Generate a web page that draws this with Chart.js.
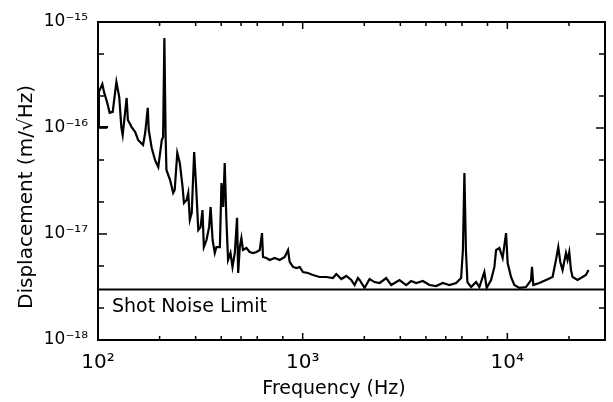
<!DOCTYPE html>
<html>
<head>
<meta charset="utf-8">
<script src="https://cdn.jsdelivr.net/npm/chart.js@4"></script>
<style>
  body { margin: 0; background: #fff; }
  #wrap { width: 613px; height: 402px; }
</style>
</head>
<body>
<div id="wrap"><canvas id="chart" width="613" height="402"></canvas></div>
<script>
// spectrum
const freq = [112,101,101,105,107,111,114,118,123,127,
  130,132,138,140,146,152,157,166,170,175,
  177,183,190,197,205,208,211,214,216,225,
  233,237,244,251,259,263,271,276,281,287,
  295,301,309,317,324,329,339,349,355,363,
  372,379,394,401,409,416,424,432,444,454,
  466,478,484,493,502,511,531,551,572,595,
  617,633,640,665,690,730,772,817,848,864,
  897,932,967,1003,1061,1122,1210,1305,1405,1460,
  1545,1634,1728,1794,1861,1897,2006,2122,2245,2375,
  2560,2709,2973,3205,3390,3586,3863,4164,4489,4835,
  5213,5620,5944,6066,6169,6274,6381,6651,7036,7302,
  7722,7925,8327,8644,8810,9142,9487,9856,10035,10423,
  10818,11442,12338,13049,13197,13392,14326,15446,16634,17283,
  17736,18137,18614,19338,19689,20069,20457,20829,22029,23300,
  24204,24927];
const disp = [1.02e-16,1.02e-16,2.19e-16,2.60e-16,2.19e-16,1.72e-16,1.39e-16,1.42e-16,2.72e-16,1.96e-16,
  1.02e-16,8.59e-17,1.92e-16,1.19e-16,1.02e-16,9.16e-17,7.71e-17,6.92e-17,8.97e-17,1.55e-16,
  9.57e-17,6.47e-17,4.99e-17,4.28e-17,7.71e-17,8.22e-17,7.06e-16,8.22e-17,4.02e-17,3.23e-17,
  2.44e-17,2.60e-17,5.81e-17,4.68e-17,2.77e-17,1.96e-17,2.09e-17,2.44e-17,1.36e-17,1.58e-17,
  5.94e-17,3.03e-17,1.09e-17,1.16e-17,1.68e-17,7.53e-18,8.77e-18,1.16e-17,1.80e-17,8.77e-18,
  6.62e-18,7.53e-18,7.53e-18,3.03e-17,1.80e-17,4.68e-17,1.36e-17,5.69e-18,6.62e-18,4.89e-18,
  6.62e-18,1.42e-17,4.29e-18,7.53e-18,9.16e-18,7.06e-18,7.38e-18,6.77e-18,6.62e-18,6.77e-18,
  7.06e-18,1.02e-17,6.07e-18,5.94e-18,5.69e-18,5.94e-18,5.69e-18,6.07e-18,7.06e-18,5.45e-18,
  4.89e-18,4.78e-18,4.89e-18,4.38e-18,4.29e-18,4.10e-18,3.93e-18,3.93e-18,3.84e-18,4.19e-18,
  3.76e-18,4.02e-18,3.68e-18,3.30e-18,3.84e-18,3.68e-18,3.10e-18,3.76e-18,3.52e-18,3.45e-18,
  3.84e-18,3.30e-18,3.68e-18,3.30e-18,3.60e-18,3.45e-18,3.60e-18,3.30e-18,3.23e-18,3.45e-18,
  3.30e-18,3.45e-18,3.84e-18,7.06e-18,3.76e-17,7.06e-18,3.52e-18,3.16e-18,3.52e-18,3.16e-18,
  4.38e-18,3.10e-18,3.68e-18,4.89e-18,7.06e-18,7.38e-18,5.94e-18,1.02e-17,5.32e-18,3.93e-18,
  3.30e-18,3.10e-18,3.16e-18,3.68e-18,4.89e-18,3.30e-18,3.45e-18,3.68e-18,3.93e-18,5.69e-18,
  7.53e-18,5.45e-18,4.57e-18,6.62e-18,5.69e-18,6.77e-18,4.57e-18,3.93e-18,3.68e-18,3.93e-18,
  4.10e-18,4.57e-18];
const shotNoise = 3e-18;
const xRange = [100, 30000];
const yRange = [1e-18, 1e-15];
const xTicks = [100,200,300,400,500,600,800,1000,2000,3000,4000,5000,6000,8000,10000,20000];
const yTicks = [1e-18,2e-18,5e-18,1e-17,2e-17,5e-17,1e-16,2e-16,5e-16,1e-15];

const FONT = '"DejaVu Sans", sans-serif';

function isDecade(v) {
  const l = Math.log10(v);
  return Math.abs(l - Math.round(l)) < 1e-6;
}
function sup(n) {
  return String(n).split('').map(c => c === '-' ? '\u207B' : '\u2070\u00B9\u00B2\u00B3\u2074\u2075\u2076\u2077\u2078\u2079'[+c]).join('');
}
function decadeLabel(v) {
  return isDecade(v) ? '10' + sup(Math.round(Math.log10(v))) : '';
}

// box, inward ticks on all four sides, titles and the shot noise caption
const frame = {
  id: 'frame',
  afterDraw(chart) {
    const c = chart.ctx, a = chart.chartArea;
    const x = chart.scales.x, y = chart.scales.y;
    c.save();
    c.strokeStyle = '#000';
    c.lineWidth = 2;
    c.strokeRect(a.left, a.top, a.right - a.left, a.bottom - a.top);
    c.lineWidth = 1.5;
    c.beginPath();
    x.ticks.forEach(t => {
      const px = x.getPixelForValue(t.value);
      const len = isDecade(t.value) ? 7 : 4;
      c.moveTo(px, a.bottom); c.lineTo(px, a.bottom - len);
      c.moveTo(px, a.top); c.lineTo(px, a.top + len);
    });
    y.ticks.forEach(t => {
      const py = y.getPixelForValue(t.value);
      const len = isDecade(t.value) ? 9 : 6;
      c.moveTo(a.left, py); c.lineTo(a.left + len, py);
      c.moveTo(a.right, py); c.lineTo(a.right - len, py);
    });
    c.stroke();

    c.fillStyle = '#000';
    c.font = '19px ' + FONT;
    c.textBaseline = 'middle';
    c.textAlign = 'left';
    c.fillText('Shot Noise Limit', a.left + 14, y.getPixelForValue(shotNoise) + 18);

    c.textAlign = 'center';
    c.font = '19px ' + FONT;
    c.fillText('Frequency (Hz)', 334, 389);
    c.font = '20px ' + FONT;
    c.translate(27, 197);
    c.rotate(-Math.PI / 2);
    c.fillText('Displacement (m/\u221AHz)', 0, 0);
    c.restore();
  }
};

new Chart(document.getElementById('chart'), {
  type: 'line',
  data: {
    datasets: [{
      data: freq.map((f, i) => ({ x: f, y: disp[i] })),
      borderColor: '#000',
      borderWidth: 2.2,
      pointRadius: 0,
      tension: 0
    }, {
      data: [{ x: xRange[0], y: shotNoise }, { x: xRange[1], y: shotNoise }],
      borderColor: '#000',
      borderWidth: 2,
      pointRadius: 0
    }]
  },
  options: {
    responsive: false,
    animation: false,
    layout: { padding: { top: 22, right: 8, left: 0, bottom: 0 } },
    plugins: { legend: { display: false }, tooltip: { enabled: false } },
    scales: {
      x: {
        type: 'logarithmic',
        min: xRange[0],
        max: xRange[1],
        afterBuildTicks: s => { s.ticks = xTicks.map(v => ({ value: v })); },
        afterFit: s => { s.height = 62; },
        grid: { display: false },
        border: { display: false },
        ticks: {
          autoSkip: false,
          maxRotation: 0,
          padding: 3,
          color: '#000',
          font: { family: FONT, size: 20 },
          callback: v => decadeLabel(v)
        }
      },
      y: {
        type: 'logarithmic',
        min: yRange[0],
        max: yRange[1],
        afterBuildTicks: s => { s.ticks = yTicks.map(v => ({ value: v })); },
        afterFit: s => { s.width = 98; },
        grid: { display: false },
        border: { display: false },
        ticks: {
          autoSkip: false,
          padding: 2,
          color: '#000',
          font: { family: FONT, size: 17 },
          callback: v => decadeLabel(v)
        }
      }
    }
  },
  plugins: [frame]
});
</script>
</body>
</html>
